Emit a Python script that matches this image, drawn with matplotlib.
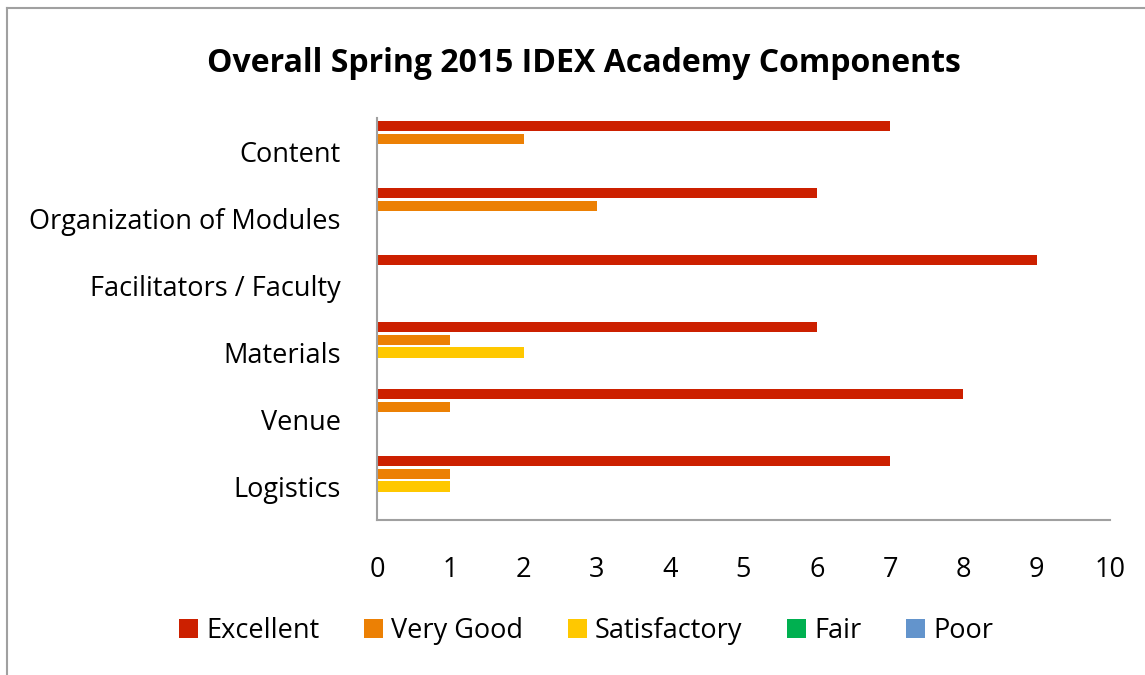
import matplotlib.pyplot as plt
import numpy as np
from matplotlib.lines import Line2D

# Data
categories = ['Content', 'Organization of Modules', 'Facilitators / Faculty',
              'Materials', 'Venue', 'Logistics']
excellent = [7, 6, 9, 6, 8, 7]
very_good = [2, 3, 0, 1, 1, 1]
satisfactory = [0, 0, 0, 2, 0, 1]
fair = [0, 0, 0, 0, 0, 0]
poor = [0, 0, 0, 0, 0, 0]
series_names = ['Excellent', 'Very Good', 'Satisfactory', 'Fair', 'Poor']
x_ticks = list(range(0, 11))

plt.rcParams['font.family'] = ['Open Sans', 'DejaVu Sans']

colors = ['#CC2000', '#EC8004', '#FFC800', '#00B050', '#6394CC']
series = [excellent, very_good, satisfactory, fair, poor]

fig = plt.figure(figsize=(11.45, 6.75), dpi=100)
W, H = 1145, 675
ax = fig.add_axes([377 / W, 1 - 520 / H, (1110 - 377) / W, (520 - 118) / H])

y = np.arange(len(categories))
slot = 0.19
bar_h = 0.15
for k, (name, vals) in enumerate(zip(series_names, series)):
    offset = (k - 2) * slot
    ax.barh(y + offset, vals, height=bar_h, color=colors[k], label=name)

ax.set_ylim(len(categories) - 0.5, -0.5)
ax.set_xlim(0, 10)
ax.set_xticks(x_ticks)
ax.set_yticks(y)
ax.set_yticklabels(categories)
ax.tick_params(axis='both', length=0, labelsize=19.5)
ax.tick_params(axis='y', pad=26)
ax.tick_params(axis='x', pad=26)
for s in ['top', 'right']:
    ax.spines[s].set_visible(False)
for s in ['left', 'bottom']:
    ax.spines[s].set_color('#A0A0A0')
    ax.spines[s].set_linewidth(1.5)

fig.text(584 / W, 1 - 63 / H, 'Overall Spring 2015 IDEX Academy Components',
         ha='center', va='center', fontsize=23, fontweight='bold')

handles, labels = ax.get_legend_handles_labels()
fig.legend(handles, labels, loc='center', bbox_to_anchor=(586 / W, 1 - 631 / H),
           ncol=5, frameon=False, fontsize=19.5, handlelength=0.7, handleheight=0.7,
           handletextpad=0.3, columnspacing=1.65)

# outer chart border
fig.add_artist(Line2D([7 / W, 7 / W], [0, 1 - 8 / H], transform=fig.transFigure,
                      color='#A0A0A0', linewidth=1.5))
fig.add_artist(Line2D([7 / W, 1], [1 - 8 / H, 1 - 8 / H], transform=fig.transFigure,
                      color='#A0A0A0', linewidth=1.5))

fig.savefig('out.png', dpi=100)
